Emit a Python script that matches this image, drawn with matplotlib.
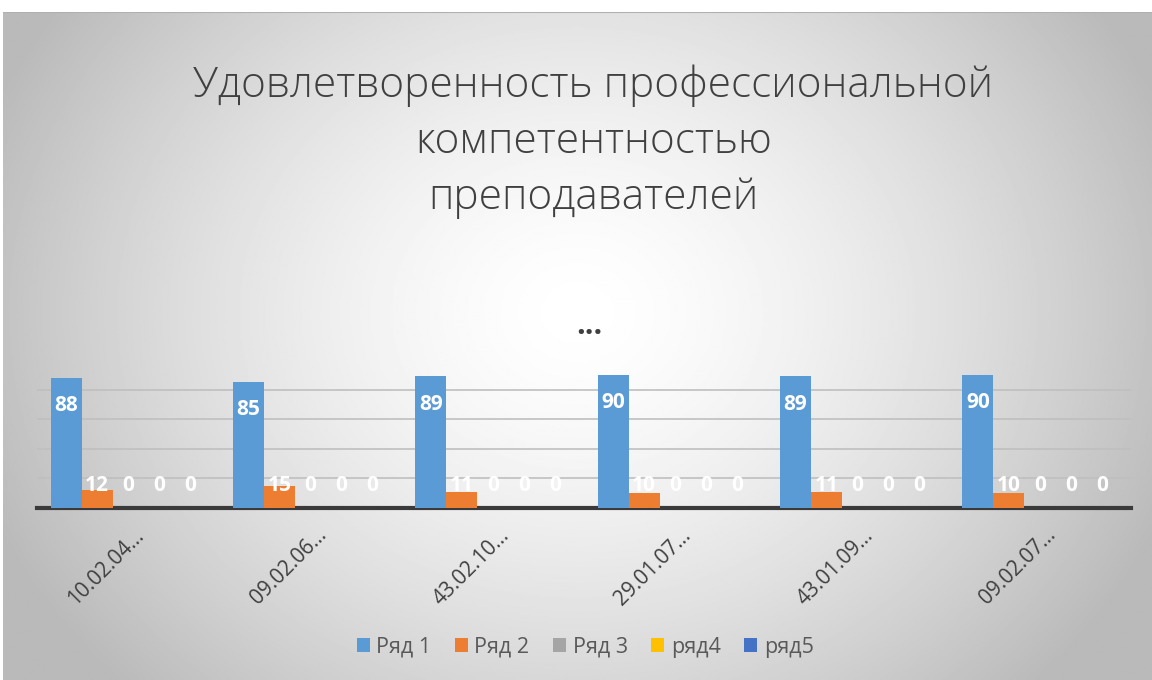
import numpy as np
import matplotlib
matplotlib.use("Agg")
import matplotlib.pyplot as plt

plt.rcParams['font.family'] = ['Open Sans', 'DejaVu Sans']

categories = ['10.02.04…', '09.02.06…', '43.02.10…', '29.01.07…', '43.01.09…', '09.02.07…']
series_names = ['Ряд 1', 'Ряд 2', 'Ряд 3', 'ряд4', 'ряд5']
row1 = [88, 85, 89, 90, 89, 90]
row2 = [12, 15, 11, 10, 11, 10]
row3 = [0, 0, 0, 0, 0, 0]
row4 = [0, 0, 0, 0, 0, 0]
row5 = [0, 0, 0, 0, 0, 0]
series = [row1, row2, row3, row4, row5]
colors = ['#5B9BD5', '#ED7D31', '#A5A5A5', '#FFC000', '#4472C4']

fig = plt.figure(figsize=(11.52, 6.8), dpi=100)

# radial gradient background
bg = fig.add_axes([0.003, 0, 0.997, 1 - 12 / 680])
yy, xx = np.mgrid[0:1:400j, 0:1:700j]
r = np.sqrt(((xx - 0.5) / 0.55) ** 2 + ((yy - 0.45) / 0.8) ** 2)
shade = 1 - 0.27 * np.clip(r, 0, 1) ** 1.5
bg.imshow(shade, cmap='gray', vmin=0, vmax=1, aspect='auto', extent=[0, 1, 0, 1], origin='upper')
bg.plot([0, 1], [1, 1], color='#b0b0b0', lw=1.5)
bg.set_xlim(0, 1)
bg.set_ylim(0, 1)
bg.axis('off')

fig.text(0.515, 0.792, 'Удовлетворенность профессиональной\nкомпетентностью\nпреподавателей',
         ha='center', va='center', fontsize=30.5, color='#404040', linespacing=1.42,
         fontweight='light')
fig.text(0.512, 0.52, '...', ha='center', va='center', fontsize=22, color='#404040', fontweight='bold')

ax = fig.add_axes([37 / 1152, 1 - 508 / 680, 1094 / 1152, 148 / 680])
ax.patch.set_alpha(0)
n = len(series)
x = np.arange(len(categories))
width = 0.85 / n
for i, (vals, name, c) in enumerate(zip(series, series_names, colors)):
    pos = x - 0.425 + width * (i + 0.5)
    bars = ax.bar(pos, vals, width, color=c, label=name, zorder=3)
    for p, v in zip(pos, vals):
        if i == 0:
            ax.annotate(str(v), (p, v), xytext=(0, -20), textcoords='offset points',
                        ha='center', va='center', color='white', fontsize=15, fontweight='bold',
                        zorder=4)
        else:
            ax.annotate(str(v), (p, 0), xytext=(0, 16), textcoords='offset points',
                        ha='center', va='center', color='white', fontsize=15, fontweight='bold',
                        zorder=4)

ax.set_xlim(-0.5, len(categories) - 0.5)
ax.set_ylim(0, 100)
ax.set_yticks([20, 40, 60, 80])
ax.yaxis.grid(True, color='#bfbfbf', lw=1.2, zorder=0)
ax.tick_params(axis='y', left=False, labelleft=False)
ax.tick_params(axis='x', bottom=False, length=0, pad=12)
for s in ['top', 'right', 'left']:
    ax.spines[s].set_visible(False)
ax.spines['bottom'].set_color('#3a3a3a')
ax.spines['bottom'].set_linewidth(3)
ax.set_xticks(x + 0.03)
ax.set_xticklabels(categories, rotation=45, ha='right', rotation_mode='anchor',
                   fontsize=15, color='#404040')

leg = fig.legend(loc='center', bbox_to_anchor=(0.508, 0.048), ncol=5, frameon=False,
                 fontsize=15.5, handlelength=0.6, handleheight=0.6, handletextpad=0.3,
                 columnspacing=1.1, labelcolor='#595959')

fig.savefig('out.png', dpi=100)
